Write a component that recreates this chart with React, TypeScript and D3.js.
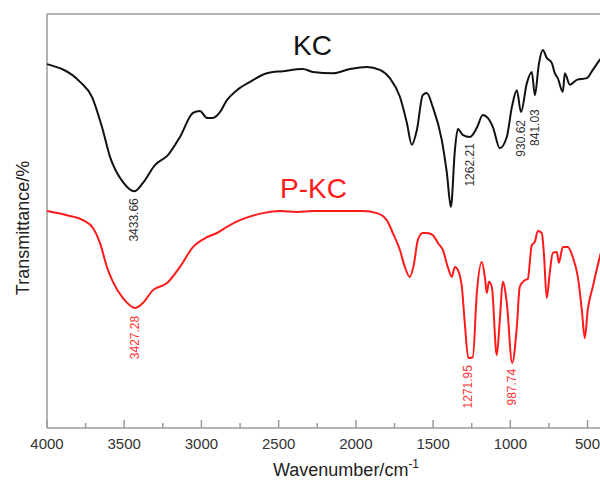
import React from "react";
import * as d3 from "d3";

// KC spectrum: wavenumber (cm-1) and transmittance (a.u.)
const kcWave = [4000, 3786, 3709, 3644, 3592, 3508, 3434, 3379, 3301, 3217, 3139, 3055, 3010, 2964, 2926, 2880, 2835, 2770, 2686, 2576, 2473, 2343, 2278, 2149, 2039, 1929, 1845, 1780, 1715, 1670, 1638, 1605, 1567, 1541, 1502, 1444, 1411, 1385, 1359, 1340, 1308, 1262, 1217, 1178, 1146, 1113, 1068, 1023, 990, 958, 931, 893, 861, 841, 816, 790, 764, 732, 712, 693, 660, 647, 615, 570, 505, 466, 421, 400];
const kcValue = [87.9, 83.6, 80.0, 72.7, 65.5, 59.4, 57.2, 59.2, 63.5, 65.9, 70.3, 76.1, 76.6, 74.9, 74.9, 76.3, 79.2, 81.6, 83.6, 85.7, 86.2, 86.7, 86.0, 85.7, 86.7, 87.2, 86.5, 84.5, 80.0, 73.7, 68.4, 72.0, 80.4, 80.9, 77.5, 69.6, 61.6, 53.4, 67.1, 72.2, 70.8, 70.3, 72.5, 75.6, 74.9, 72.7, 67.6, 70.3, 77.5, 81.6, 76.3, 83.3, 86.0, 80.4, 87.7, 91.3, 89.4, 88.2, 85.7, 84.5, 81.2, 85.7, 82.9, 84.1, 84.5, 86.5, 88.9, 89.9];

// P-KC spectrum
const pkcWave = [4000, 3871, 3767, 3702, 3657, 3612, 3573, 3508, 3427, 3379, 3314, 3223, 3139, 3055, 2964, 2900, 2835, 2751, 2602, 2492, 2382, 2278, 2168, 2058, 1955, 1864, 1800, 1761, 1715, 1683, 1651, 1625, 1599, 1567, 1541, 1502, 1469, 1437, 1405, 1379, 1359, 1340, 1314, 1295, 1272, 1243, 1217, 1185, 1165, 1152, 1139, 1120, 1088, 1068, 1049, 1023, 988, 958, 939, 906, 887, 861, 842, 822, 796, 783, 764, 745, 725, 699, 686, 660, 628, 596, 563, 537, 518, 499, 466, 421, 400];
const pkcValue = [52.4, 51.4, 50.2, 48.3, 44.7, 38.9, 35.3, 31.4, 29.0, 30.2, 33.3, 35.0, 38.9, 43.7, 46.1, 47.1, 48.6, 50.2, 51.9, 52.4, 52.2, 52.4, 52.4, 52.4, 52.4, 51.9, 50.2, 47.1, 43.0, 38.9, 36.5, 39.4, 45.4, 47.1, 47.1, 46.6, 44.7, 43.0, 38.9, 36.5, 38.9, 38.2, 34.1, 25.4, 16.9, 17.1, 32.6, 40.1, 36.5, 32.6, 35.3, 34.1, 17.6, 26.1, 35.3, 30.2, 15.7, 24.4, 34.1, 35.7, 36.0, 44.2, 44.9, 47.6, 47.1, 42.3, 31.4, 37.4, 42.3, 42.5, 39.9, 43.7, 43.7, 41.3, 36.5, 28.5, 21.7, 28.5, 34.1, 41.3, 44.2];

// peak annotations: wavenumber, label text, transmittance at label top
const kcPeakWave = [3434, 1262, 931, 841];
const kcPeakText = ["3433.66", "1262.21", "930.62", "841.03"];
const kcPeakTop = [55.5, 68.8, 74.4, 77.0];
const pkcPeakWave = [3427, 1272, 988];
const pkcPeakText = ["3427.28", "1271.95", "987.74"];
const pkcPeakTop = [27.1, 15.2, 14.3];

const majorTicks = [4000, 3500, 3000, 2500, 2000, 1500, 1000, 500];
const minorTicks = [3750, 3250, 2750, 2250, 1750, 1250, 750];

export default function App() {
  const W = 600, H = 482;
  const left = 47, right = 603, top = 14, bottom = 428;
  const x = d3.scaleLinear().domain([4000, 400]).range([left, right]);
  const y = d3.scaleLinear().domain([0, 100]).range([bottom, top]);
  const line = d3
    .line<[number, number]>()
    .x((d) => x(d[0]))
    .y((d) => y(d[1]))
    .curve(d3.curveMonotoneX);
  const kcPts = kcWave.map((w, i) => [w, kcValue[i]] as [number, number]);
  const pkcPts = pkcWave.map((w, i) => [w, pkcValue[i]] as [number, number]);
  const axisColor = "#9a9a9a";
  const font = "Arial, 'Liberation Sans', sans-serif";

  return (
    <svg
      width={W}
      height={H}
      style={{ position: "absolute", left: 0, top: 0, background: "#fff" }}
      fontFamily={font}
    >
      <line x1={left} x2={right} y1={top} y2={top} stroke={axisColor} strokeWidth={1.5} />
      <line x1={left} x2={left} y1={top} y2={bottom} stroke={axisColor} strokeWidth={1.5} />
      <line x1={left} x2={right} y1={bottom} y2={bottom} stroke={axisColor} strokeWidth={1.5} />
      {majorTicks.map((t) => (
        <g key={"M" + t}>
          <line x1={x(t)} x2={x(t)} y1={bottom} y2={bottom - 8} stroke={axisColor} strokeWidth={1.5} />
          <text x={x(t)} y={449} textAnchor="middle" fontSize={15} fill="#333">
            {t}
          </text>
        </g>
      ))}
      {minorTicks.map((t) => (
        <line key={"m" + t} x1={x(t)} x2={x(t)} y1={bottom} y2={bottom - 5} stroke={axisColor} strokeWidth={1.5} />
      ))}
      <text x={273} y={476} fontSize={18} fill="#222">
        Wavenumber/cm
        <tspan dy={-8} fontSize={12}>-1</tspan>
      </text>
      <text
        transform={`translate(29,${228}) rotate(-90)`}
        textAnchor="middle"
        fontSize={18}
        fill="#222"
      >
        Transmittance/%
      </text>

      <path d={line(kcPts) || ""} fill="none" stroke="#111" strokeWidth={2} />
      <path d={line(pkcPts) || ""} fill="none" stroke="#ff1a1a" strokeWidth={2} />

      <text x={293} y={55} fontSize={28} fill="#111">KC</text>
      <text x={280} y={198} fontSize={28} fill="#ff1a1a">P-KC</text>

      {kcPeakWave.map((w, i) => (
        <text
          key={"kp" + i}
          transform={`translate(${x(w) + 4},${y(kcPeakTop[i])}) rotate(-90)`}
          textAnchor="end"
          fontSize={12}
          fill="#333"
        >
          {kcPeakText[i]}
        </text>
      ))}
      {pkcPeakWave.map((w, i) => (
        <text
          key={"pp" + i}
          transform={`translate(${x(w) + 4},${y(pkcPeakTop[i])}) rotate(-90)`}
          textAnchor="end"
          fontSize={12}
          fill="#ff3333"
        >
          {pkcPeakText[i]}
        </text>
      ))}
    </svg>
  );
}
